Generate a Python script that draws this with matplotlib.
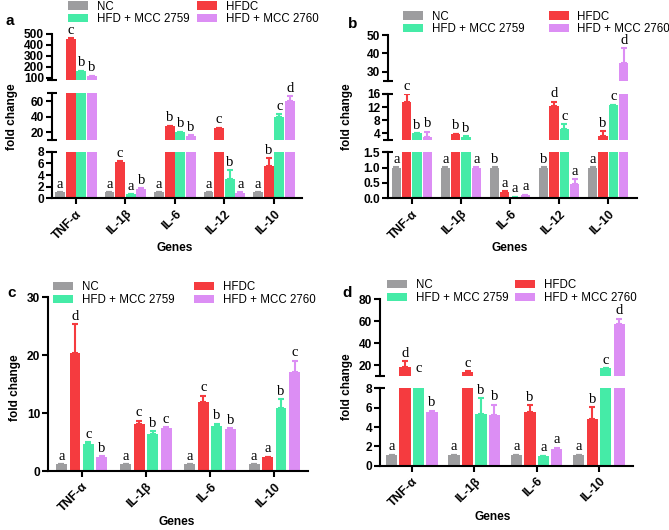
import numpy as np
import matplotlib
matplotlib.use('Agg')
import matplotlib.pyplot as plt
from matplotlib.patches import Patch

plt.rcParams['font.family'] = ['Liberation Sans', 'DejaVu Sans']

groups = ['NC', 'HFDC', 'HFD + MCC 2759', 'HFD + MCC 2760']
colors = ['#9d9d9f', '#f53b3f', '#45eba7', '#dc8ef4']

genes_ab = ['TNF-α', 'IL-1β', 'IL-6', 'IL-12', 'IL-10']
genes_cd = ['TNF-α', 'IL-1β', 'IL-6', 'IL-10']

# rows: NC, HFDC, HFD + MCC 2759, HFD + MCC 2760 ; columns: genes
a_vals = [[1.0, 1.0, 1.0, 1.0, 1.0],
          [455, 6.3, 27.5, 25.2, 5.5],
          [160, 0.7, 20.0, 3.25, 40.0],
          [115, 1.6, 15.7, 0.95, 59.6]]
a_errs = [[0.05, 0.05, 0.05, 0.05, 0.05],
          [8, 0.1, 1.0, 0.5, 1.4],
          [5, 0.05, 0.5, 1.6, 3.5],
          [5, 0.1, 0.5, 0.1, 7.0]]
a_letters = [['a', 'a', 'a', 'a', 'a'],
             ['c', 'c', 'b', 'c', 'b'],
             ['b', 'a', 'b', 'b', 'c'],
             ['b', 'b', 'b', 'a', 'd']]

b_vals = [[1.0, 1.0, 1.0, 1.0, 1.0],
          [13.5, 3.8, 0.21, 12.4, 3.3],
          [4.0, 3.0, 0.04, 5.4, 12.6],
          [3.0, 1.0, 0.1, 0.47, 34.9]]
b_errs = [[0.02, 0.02, 0.02, 0.02, 0.02],
          [2.4, 0.1, 0.02, 1.3, 1.4],
          [0.1, 0.1, 0.01, 1.4, 0.1],
          [1.5, 0.02, 0.02, 0.15, 7.8]]
b_letters = [['a', 'a', 'b', 'b', 'a'],
             ['c', 'b', 'a', 'd', 'b'],
             ['b', 'b', 'a', 'c', 'c'],
             ['b', 'a', 'a', 'a', 'd']]

c_vals = [[1.15, 1.15, 1.15, 1.15],
          [20.3, 8.2, 11.9, 2.4],
          [4.7, 6.4, 7.8, 10.8],
          [2.45, 7.5, 7.3, 17.15]]
c_errs = [[0.05, 0.05, 0.05, 0.05],
          [5.1, 0.5, 1.1, 0.1],
          [0.3, 0.5, 0.4, 1.6],
          [0.1, 0.1, 0.1, 1.9]]
c_letters = [['a', 'a', 'a', 'a'],
             ['d', 'c', 'c', 'a'],
             ['c', 'b', 'b', 'b'],
             ['b', 'c', 'b', 'c']]

d_vals = [[1.1, 1.1, 1.1, 1.1],
          [18.2, 13.6, 5.58, 4.82],
          [9.6, 5.3, 1.0, 17.2],
          [5.5, 5.24, 1.72, 57.3]]
d_errs = [[0.05, 0.05, 0.05, 0.05],
          [5.6, 1.0, 0.7, 1.2],
          [0.0, 1.65, 0.05, 0.2],
          [0.2, 1.05, 0.15, 5.2]]
d_letters = [['a', 'a', 'a', 'a'],
             ['d', 'c', 'b', 'b'],
             ['c', 'b', 'a', 'c'],
             ['b', 'b', 'a', 'd']]

W, H = 669, 530
fig = plt.figure(figsize=(W / 100, H / 100), dpi=100)


def px_axes(x0, y0, x1, y1):
    return fig.add_axes([x0 / W, 1 - y1 / H, (x1 - x0) / W, (y1 - y0) / H])


def panel(xr, segs, genes, vals, errs, letters, xlim, width, step):
    # segs listed top -> bottom: (y_top_px, y_bot_px, ylo, yhi, ticks, ticklabels)
    x = np.arange(len(genes))
    axes = []
    for i, (yt, yb, lo, hi, ticks, tlabels) in enumerate(segs):
        ax = px_axes(xr[0], yt, xr[1], yb)
        for g in range(4):
            xs = x + (g - 1.5) * step
            ax.bar(xs, vals[g], width, color=colors[g], zorder=2, linewidth=0)
        ax.set_xlim(xlim)
        ax.set_ylim(lo, hi)
        ax.set_yticks(ticks)
        ax.set_yticklabels(tlabels, fontsize=8.6, fontweight='bold')
        for s in ['top', 'right']:
            ax.spines[s].set_visible(False)
        ax.spines['left'].set_linewidth(1.5)
        ax.tick_params(axis='y', width=1.5, length=4, pad=1.5)
        last = i == len(segs) - 1
        if last:
            ax.spines['bottom'].set_linewidth(1.5)
            ax.set_xticks(x)
            ax.set_xticklabels(genes, rotation=45, ha='right', rotation_mode='anchor',
                               fontsize=8.8, fontweight='bold')
            ax.tick_params(axis='x', width=1.5, length=4, pad=3)
        else:
            ax.spines['bottom'].set_visible(False)
            ax.tick_params(axis='x', bottom=False, labelbottom=False)
            ax.plot([0], [lo], marker='_', ms=7, mew=1.5, color='k',
                    transform=ax.get_yaxis_transform(), clip_on=False)
        if i > 0:
            ax.plot([0], [hi], marker='_', ms=7, mew=1.5, color='k',
                    transform=ax.get_yaxis_transform(), clip_on=False)
        ax.patch.set_alpha(0)
        axes.append(ax)
    # error bars (upper only) and significance letters, in the segment holding the bar top
    for g in range(4):
        for j in range(len(genes)):
            xpos = j + (g - 1.5) * step
            top = vals[g][j] + errs[g][j]
            for k in range(len(segs) - 1, -1, -1):
                lo, hi = segs[k][2], segs[k][3]
                if top <= hi:
                    if errs[g][j] > 0 and top > lo:
                        axes[k].errorbar([xpos], [vals[g][j]], yerr=[[0], [errs[g][j]]], fmt='none',
                                         ecolor=colors[g], elinewidth=1.5, capsize=2.5,
                                         capthick=1.5, zorder=1)
                    axes[k].annotate(letters[g][j], (xpos, max(top, lo)),
                                     xytext=(0, 1), textcoords='offset points',
                                     ha='center', va='bottom', fontsize=10.5,
                                     family='Liberation Serif', annotation_clip=False)
                    break
    return axes


def add_legend(ax, px, py, colsp):
    handles = [Patch(facecolor=colors[i], edgecolor='none') for i in [0, 2, 1, 3]]
    labels = [groups[i] for i in [0, 2, 1, 3]]
    ax.legend(handles, labels, ncol=2, loc='upper left', bbox_to_anchor=(px / W, 1 - py / H),
              bbox_transform=fig.transFigure, frameon=False, prop={'size': 8.3},
              handlelength=1.74, handleheight=0.7, handletextpad=0.75,
              columnspacing=colsp, labelspacing=0.08, borderpad=0, borderaxespad=0)


# panel a
segs_a = [(34, 80, 80, 500, [100, 200, 300, 400, 500], ['100', '200', '300', '400', '500']),
          (93.3, 140, 10, 70, [20, 40, 60], ['20', '40', '60']),
          (151.7, 198.3, 0, 8, [0, 2, 4, 6, 8], ['0', '2', '4', '6', '8'])]
axa = panel((51.7, 301.7), segs_a, genes_ab, a_vals, a_errs, a_letters, (-0.49, 4.56), 0.2, 0.215)
add_legend(axa[0], 68, 0.5, 0.7)

# panel b
segs_b = [(35, 81, 25, 50, [30, 40, 50], ['30', '40', '50']),
          (94, 140, 2, 16, [4, 8, 12, 16], ['4', '8', '12', '16']),
          (152.3, 198.3, 0, 1.5, [0, 0.5, 1.0, 1.5], ['0.0', '0.5', '1.0', '1.5'])]
axb = panel((387.7, 636.7), segs_b, genes_ab, b_vals, b_errs, b_letters, (-0.49, 4.58), 0.19, 0.21)
add_legend(axb[0], 403, 10.5, 2.1)

# panel c
segs_c = [(297.3, 471, 0, 30, [0, 10, 20, 30], ['0', '10', '20', '30'])]
axc = panel((48, 308), segs_c, genes_cd, c_vals, c_errs, c_letters, (-0.525, 3.525), 0.17, 0.21)
add_legend(axc[0], 53, 281, 1.7)

# panel d
segs_d = [(299.3, 376.3, 10, 80, [20, 40, 60, 80], ['20', '40', '60', '80']),
          (388.3, 465.7, 0, 8, [0, 2, 4, 6, 8], ['0', '2', '4', '6', '8'])]
axd = panel((380, 632.7), segs_d, genes_cd, d_vals, d_errs, d_letters, (-0.51, 3.54), 0.18, 0.215)
add_legend(axd[0], 387, 279, 0.6)

# panel letters and shared labels
for lab, px, py in [('a', 5, 25), ('b', 348, 28), ('c', 7, 297), ('d', 342, 297)]:
    fig.text(px / W, 1 - py / H, lab, fontsize=11, fontweight='bold', va='baseline')
for px, py in [(12, 117), (347, 117), (15, 388), (347, 387)]:
    fig.text(px / W, 1 - py / H, 'fold change', rotation=90, ha='center', va='center',
             fontsize=8.5, fontweight='bold')
for px, py in [(175, 248), (510, 248), (177, 522), (493, 517)]:
    fig.text(px / W, 1 - py / H, 'Genes', ha='center', va='center', fontsize=8.6, fontweight='bold')

fig.savefig('out.png', dpi=100)
